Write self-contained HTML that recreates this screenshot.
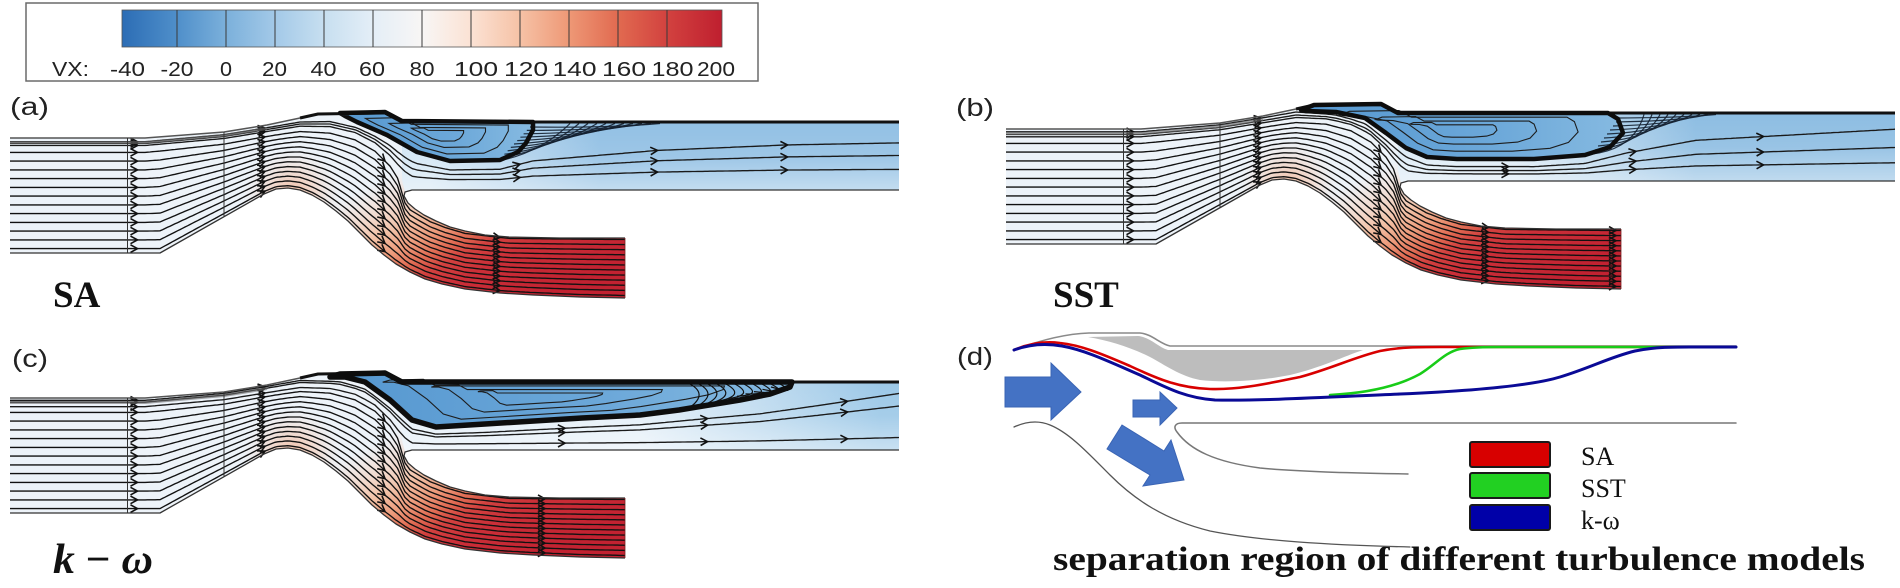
<!DOCTYPE html>
<html><head><meta charset="utf-8"><style>
html,body{margin:0;padding:0;background:#fff;}
svg{display:block;}
</style></head><body>
<svg id="s" xmlns="http://www.w3.org/2000/svg" xmlns:xlink="http://www.w3.org/1999/xlink" width="1900" height="588" viewBox="0 0 1900 588">
<defs>
<linearGradient id="gBar" gradientUnits="userSpaceOnUse" x1="122" y1="0" x2="722" y2="0">
 <stop offset="0" stop-color="#2c6db5"/>
 <stop offset="0.092" stop-color="#4f8fca"/>
 <stop offset="0.173" stop-color="#7bb0db"/>
 <stop offset="0.255" stop-color="#a3c9e8"/>
 <stop offset="0.337" stop-color="#c7dff0"/>
 <stop offset="0.418" stop-color="#e4eef7"/>
 <stop offset="0.5" stop-color="#f8f6f5"/>
 <stop offset="0.582" stop-color="#fbe2d4"/>
 <stop offset="0.663" stop-color="#f6c2a6"/>
 <stop offset="0.745" stop-color="#ee9876"/>
 <stop offset="0.827" stop-color="#e16a50"/>
 <stop offset="0.908" stop-color="#d2423f"/>
 <stop offset="1" stop-color="#bf1f2f"/>
</linearGradient>
<linearGradient id="gRed" gradientUnits="userSpaceOnUse" x1="380" y1="180" x2="460" y2="340">
 <stop offset="0" stop-color="#f4dccf" stop-opacity="0"/>
 <stop offset="0.1" stop-color="#f4d6c6" stop-opacity="0.5"/>
 <stop offset="0.28" stop-color="#f2c1a6"/>
 <stop offset="0.4" stop-color="#ec9a7a"/>
 <stop offset="0.5" stop-color="#e06a52"/>
 <stop offset="0.58" stop-color="#d2413f"/>
 <stop offset="0.7" stop-color="#cb2f38"/>
 <stop offset="1" stop-color="#c22231"/>
</linearGradient>
<radialGradient id="gCrest" gradientUnits="userSpaceOnUse" cx="292" cy="198" r="50">
 <stop offset="0" stop-color="#f1a884" stop-opacity="0.85"/>
 <stop offset="0.5" stop-color="#f3c4ab" stop-opacity="0.5"/>
 <stop offset="1" stop-color="#f6e0d4" stop-opacity="0"/>
</radialGradient>
<linearGradient id="gTa" gradientUnits="userSpaceOnUse" x1="430" y1="0" x2="600" y2="0">
 <stop offset="0" stop-color="#d3e6f4"/><stop offset="1" stop-color="#92c0e4"/>
</linearGradient>
<linearGradient id="gTb" gradientUnits="userSpaceOnUse" x1="520" y1="0" x2="700" y2="0">
 <stop offset="0" stop-color="#d9e9f5"/><stop offset="1" stop-color="#8dbde2"/>
</linearGradient>
<linearGradient id="gTc" gradientUnits="userSpaceOnUse" x1="640" y1="0" x2="880" y2="0">
 <stop offset="0" stop-color="#e4eff8"/><stop offset="1" stop-color="#9cc8e7"/>
</linearGradient>
<linearGradient id="gTv" gradientUnits="userSpaceOnUse" x1="0" y1="122" x2="0" y2="190">
 <stop offset="0" stop-color="#fff" stop-opacity="0"/>
 <stop offset="0.5" stop-color="#fff" stop-opacity="0.1"/>
 <stop offset="1" stop-color="#fff" stop-opacity="0.45"/>
</linearGradient>
<linearGradient id="gBub" x1="0" y1="0" x2="1" y2="0">
 <stop offset="0" stop-color="#5597d0"/><stop offset="0.6" stop-color="#6ca8d9"/><stop offset="1" stop-color="#86bae1"/>
</linearGradient>
<path id="dom" d="M10,138 L145,138 L224,132 L267,125 L300,118 L318,114 L385,113 L402,122 L899,122 L899,190 L412,190 L405,192 L404,196 L408,203 L415,209 L424,215 L436,221 L450,227 L465,231 L485,235 L509,237 L560,238 L625,238 L625,298 L580,297 L533,295 L500,293 L465,289 L442,284 L425,279 L410,272 L396,264 L384,255 L372,245 L360,233 L348,221 L336,211 L324,202 L312,195 L300,190 L288,188 L276,189 L264,194 L160,253 L10,253 Z"/>
<clipPath id="cd"><use xlink:href="#dom" href="#dom"/></clipPath>
<path id="tch" d="M402,122 L899,122 L899,190 L412,190 L405,192 L402,180 Z"/>
<g id="walls" fill="none" stroke-linejoin="round">
 <path d="M10,138 L145,138 L224,132 L267,125 L300,118" stroke="#555" stroke-width="1.5"/>
 <path d="M300,118 L318,114 L385,113 L402,122 L899,122" stroke="#111" stroke-width="3"/>
 <path d="M10,253 L160,253 L264,194 L276,189 L288,188 L300,190 L312,195 L324,202 L336,211 L348,221 L360,233 L372,245 L384,255 L396,264 L410,272 L425,279 L442,284 L465,289 L500,293 L533,295 L580,297 L625,298" stroke="#333" stroke-width="1.3"/>
 <path d="M899,190 L412,190 L405,192 L404,196 L408,203 L415,209 L424,215 L436,221 L450,227 L465,231 L485,235 L509,237 L560,238 L625,238" stroke="#333" stroke-width="1.3"/>
 <path d="M127.5,138 V253 M224,132 V217" stroke="#333" stroke-width="1"/>
 <path d="M625,238 V298" stroke="#7a2020" stroke-width="0.8"/>
</g>
<g id="fills">
 <use xlink:href="#dom" href="#dom" fill="#edf3f9"/>
 <use xlink:href="#dom" href="#dom" fill="url(#gRed)"/>
 <rect x="230" y="150" width="130" height="110" fill="url(#gCrest)" clip-path="url(#cd)"/>
</g>
</defs>

<!-- colorbar -->
<rect x="26" y="3" width="732" height="78" fill="#fff" stroke="#6a6a6a" stroke-width="1.5"/>
<rect x="122" y="10" width="600" height="37" fill="url(#gBar)" stroke="#555" stroke-width="0.8"/>
<path d="M177,10V47M226,10V47M275,10V47M324,10V47M373,10V47M422,10V47M471,10V47M520,10V47M569,10V47M618,10V47M667,10V47" stroke="#3a3a3a" stroke-width="1"/>
<g font-family="Liberation Sans, Arial, sans-serif" font-size="20" fill="#222">
 <text x="52" y="76" textLength="37" lengthAdjust="spacingAndGlyphs">VX:</text>
 <text x="127.5" y="76" text-anchor="middle" textLength="35" lengthAdjust="spacingAndGlyphs">-40</text>
 <text x="177" y="76" text-anchor="middle" textLength="33" lengthAdjust="spacingAndGlyphs">-20</text>
 <text x="226" y="76" text-anchor="middle" textLength="12" lengthAdjust="spacingAndGlyphs">0</text>
 <text x="274.5" y="76" text-anchor="middle" textLength="25" lengthAdjust="spacingAndGlyphs">20</text>
 <text x="323.5" y="76" text-anchor="middle" textLength="26" lengthAdjust="spacingAndGlyphs">40</text>
 <text x="372" y="76" text-anchor="middle" textLength="26" lengthAdjust="spacingAndGlyphs">60</text>
 <text x="422" y="76" text-anchor="middle" textLength="25" lengthAdjust="spacingAndGlyphs">80</text>
 <text x="476" y="76" text-anchor="middle" textLength="44" lengthAdjust="spacingAndGlyphs">100</text>
 <text x="526" y="76" text-anchor="middle" textLength="44" lengthAdjust="spacingAndGlyphs">120</text>
 <text x="574.5" y="76" text-anchor="middle" textLength="44" lengthAdjust="spacingAndGlyphs">140</text>
 <text x="624" y="76" text-anchor="middle" textLength="44" lengthAdjust="spacingAndGlyphs">160</text>
 <text x="672.5" y="76" text-anchor="middle" textLength="42" lengthAdjust="spacingAndGlyphs">180</text>
 <text x="716" y="76" text-anchor="middle" textLength="38" lengthAdjust="spacingAndGlyphs">200</text>
</g>

<!-- panel labels -->
<g font-family="Liberation Sans, Arial, sans-serif" font-size="25" fill="#222">
 <text x="10" y="115" textLength="39" lengthAdjust="spacingAndGlyphs">(a)</text>
 <text x="956" y="116" textLength="38" lengthAdjust="spacingAndGlyphs">(b)</text>
 <text x="12" y="367" textLength="36" lengthAdjust="spacingAndGlyphs">(c)</text>
 <text x="957" y="365" textLength="36" lengthAdjust="spacingAndGlyphs">(d)</text>
</g>
<g font-family="Liberation Serif, Times New Roman, serif" font-weight="bold" fill="#111">
 <text x="53" y="307" font-size="37">SA</text>
 <text x="1053" y="307" font-size="37">SST</text>
 <text x="53" y="573" font-size="42" textLength="100" lengthAdjust="spacingAndGlyphs"><tspan font-style="italic">k</tspan> − <tspan font-style="italic">ω</tspan></text>
 <text x="1053" y="570" font-size="34" textLength="812" lengthAdjust="spacingAndGlyphs">separation region of different turbulence models</text>
</g>

<!-- panel a -->
<g transform="translate(0,0)">
 <use xlink:href="#fills" href="#fills"/>
 <use xlink:href="#tch" href="#tch" fill="url(#gTa)"/>
 <use xlink:href="#tch" href="#tch" fill="url(#gTv)"/>
 <polygon points="340,113 385,112 402,121 533,122 533,130 526,143 518,152 500,160 450,161 417,152 387,135 357,122 345,116" fill="url(#gBub)"/>
 <g id="La"></g>
 <use xlink:href="#walls" href="#walls"/>
 <polygon points="340,113 385,112 402,121 533,122 533,130 526,143 518,152 500,160 450,161 417,152 387,135 357,122 345,116" fill="none" stroke="#0d0d0d" stroke-width="4.5" stroke-linejoin="round"/>
</g>
<!-- panel b -->
<g transform="translate(996,-9)">
 <use xlink:href="#fills" href="#fills"/>
 <use xlink:href="#tch" href="#tch" fill="url(#gTb)"/>
 <use xlink:href="#tch" href="#tch" fill="url(#gTv)"/>
 <polygon points="305,119 318,114 385,113 402,122 612,122 622,128 627,142 614,156 589,164 538,168 461,168 431,166 410,157 390,142 369,127 340,121 310,120" fill="url(#gBub)"/>
 <g id="Lb"></g>
 <use xlink:href="#walls" href="#walls"/>
 <polygon points="305,119 318,114 385,113 402,122 612,122 622,128 627,142 614,156 589,164 538,168 461,168 431,166 410,157 390,142 369,127 340,121 310,120" fill="none" stroke="#0d0d0d" stroke-width="4.5" stroke-linejoin="round"/>
</g>
<!-- panel c -->
<g transform="translate(0,260)">
 <use xlink:href="#fills" href="#fills"/>
 <use xlink:href="#tch" href="#tch" fill="url(#gTc)"/>
 <use xlink:href="#tch" href="#tch" fill="url(#gTv)"/>
 <polygon points="330,117 340,114 385,113 402,122 792,122 790,127 770,134 740,140 703,146 679,150 640,155 582,158 485,164 436,167 412,160 390,140 365,122 345,117" fill="url(#gBub)"/>
 <g id="Lc"></g>
 <use xlink:href="#walls" href="#walls"/>
 <polygon points="330,117 340,114 385,113 402,122 792,122 790,127 770,134 740,140 703,146 679,150 640,155 582,158 485,164 436,167 412,160 390,140 365,122 345,117" fill="none" stroke="#0d0d0d" stroke-width="5.5" stroke-linejoin="round"/>
</g>

<!-- panel d -->
<g fill="none" stroke-linecap="round" stroke-linejoin="round">
 <path d="M1088,337 L1138,336 C1150,337 1158,347 1168,350 L1363,350 C1345,356 1320,368 1290,375 C1260,381 1225,383 1200,380 C1180,376 1165,365 1150,357 C1130,347 1110,341 1088,337 Z" fill="#bdbdbd"/>
 <path d="M1014,350 C1030,344 1060,334 1089,333 L1140,333 C1152,334 1160,344 1170,346 L1736,346" stroke="#8a8a8a" stroke-width="1.6"/>
 <path d="M1014,350 C1030,343 1045,341 1060,343 C1080,345 1100,353 1130,366 C1160,380 1180,388 1210,389 C1240,390 1270,383 1300,377 C1330,369 1355,357 1380,351 C1400,347 1420,347 1440,347 L1736,347" stroke="#d80000" stroke-width="2.6"/>
 <path d="M1330,395 C1370,393 1400,385 1420,374 C1435,365 1445,352 1460,349 C1475,347 1490,347 1500,347 L1736,347" stroke="#18cc18" stroke-width="2.6"/>
 <path d="M1014,350 C1030,344 1045,343 1062,346 C1085,350 1110,362 1140,375 C1165,387 1185,398 1215,400 C1260,401 1330,397 1400,394 C1470,391 1530,386 1560,377 C1590,368 1610,357 1635,351 C1655,347 1670,347 1690,347 L1736,347" stroke="#0a0a96" stroke-width="3"/>
 <path d="M1736,423 L1182,423 C1175,423 1173,427 1177,432 C1190,450 1215,462 1260,468 C1300,472 1360,473 1408,474" stroke="#777" stroke-width="1.5"/>
 <path d="M1014,427 C1025,422 1038,420 1050,425 C1070,433 1090,455 1110,475 C1135,500 1165,520 1210,531 C1260,541 1330,545 1410,547" stroke="#555" stroke-width="1.3"/>
</g>
<g fill="#4472c4" stroke="#3a64b4" stroke-width="1">
 <polygon points="1005,377 1051,377 1051,363 1081,392 1051,420 1051,407 1005,407"/>
 <polygon points="1133,400 1160,400 1160,392 1177,408 1160,425 1160,417 1133,417"/>
 <polygon points="1122,425 1164,451 1171,440 1184,480 1143,486 1150,475 1107,449"/>
</g>
<g stroke="#1a1a1a" stroke-width="2">
 <rect x="1470" y="442" width="80" height="25" rx="2" fill="#d80000"/>
 <rect x="1470" y="473" width="80" height="25" rx="2" fill="#22d022"/>
 <rect x="1470" y="505" width="80" height="25" rx="2" fill="#0000a8"/>
</g>
<g font-family="Liberation Serif, Times New Roman, serif" font-size="26" fill="#111">
 <text x="1581" y="465">SA</text>
 <text x="1581" y="497">SST</text>
 <text x="1581" y="529">k-ω</text>
</g>
</svg>
<script>
(function(){
var NS='http://www.w3.org/2000/svg';
function el(t,a,p){var e=document.createElementNS(NS,t);for(var k in a)e.setAttribute(k,a[k]);p.appendChild(e);return e;}
function yAt(p,x){if(x<=p[0][0])return p[0][1];for(var i=0;i<p.length-1;i++){if(x<=p[i+1][0]){var t=(x-p[i][0])/(p[i+1][0]-p[i][0]);return p[i][1]+t*(p[i+1][1]-p[i][1]);}}return p[p.length-1][1];}
function mk(A,B,t,x0,x1){var r=[];for(var x=x0;x<=x1+1e-6;x+=2.5){r.push([x,yAt(A,x)*(1-t)+yAt(B,x)*t]);}if(r[r.length-1][0]<x1)r.push([x1,yAt(A,x1)*(1-t)+yAt(B,x1)*t]);return r;}
function dd(pts){return 'M'+pts.map(function(p){return p[0].toFixed(1)+' '+p[1].toFixed(1);}).join('L');}
function arr(pts,x,g){var i=0;while(i<pts.length-1&&pts[i][0]<x)i++;if(i<1)i=1;var a=pts[i-1],b=pts[i];var dx=b[0]-a[0],dy=b[1]-a[1];var L=Math.hypot(dx,dy)||1;dx/=L;dy/=L;var s=7,w=3.8,tx=b[0],ty=b[1];
el('path',{d:'M'+(tx-dx*s-dy*w).toFixed(1)+' '+(ty-dy*s+dx*w).toFixed(1)+'L'+tx.toFixed(1)+' '+ty.toFixed(1)+'L'+(tx-dx*s+dy*w).toFixed(1)+' '+(ty-dy*s-dx*w).toFixed(1),fill:'none',stroke:'#111','stroke-width':1.6},g);}
var WB=[[10,253],[160,253],[264,194],[276,189],[288,188],[300,190],[312,195],[324,202],[336,211],[348,221],[360,233],[372,245],[384,255],[396,264],[410,272],[425,279],[442,284],[465,289],[500,293],[533,295],[580,297],[625,298]];
var M2=[[10,148],[145,148],[224,141],[267,134],[300,129],[330,130],[355,136],[375,147],[390,162],[398,175],[402,190],[405,200],[410,207],[418,212],[430,219],[445,225],[465,231],[509,236],[625,237]];
var M1=[[10,148],[145,148],[224,141],[267,134],[300,129],[330,130],[355,136],[375,147],[390,162],[398,173],[405,181],[412,186],[899,187]];
var P=[
 {id:'La',T:[[10,139],[145,139],[224,132],[267,125],[300,119],[330,118],[357,124],[387,137],[417,154],[450,163],[500,162],[533,150],[657,135],[787,127],[899,124]],ut:[0.3,0.5,0.72],ma:[137,265,385,500],ua:[137,265,520,657,787],
  bub:[[340,113],[385,112],[402,121],[533,122],[533,130],[526,143],[518,152],[500,160],[450,161],[417,152],[387,135],[357,122],[345,116]],
  fan:function(g){for(var k=0;k<11;k++){el('path',{d:'M'+(498+3.2*k)+' '+(161-3.4*k)+'Q'+(540+7*k)+' '+(153-2.5*k)+' '+(570+9*k)+' 123.5',fill:'none',stroke:'#142030','stroke-width':1.2,opacity:0.9},g);}}},
 {id:'Lb',T:[[10,139],[145,139],[224,132],[267,125],[300,119],[340,122],[369,130],[390,146],[410,161],[431,171],[461,173],[538,173],[589,169],[630,156],[700,140],[899,126]],ut:[0.2,0.5,0.75],ma:[137,265,385,492,618],ua:[137,265,512,640,767],
  bub:[[305,119],[318,114],[385,113],[402,122],[612,122],[622,128],[627,142],[614,156],[589,164],[538,168],[461,168],[431,166],[410,157],[390,142],[369,127],[340,121],[310,120]],
  fan:function(g){for(var k=0;k<10;k++){el('path',{d:'M'+(596+3*k)+' '+(163-4*k)+'Q'+(638+6*k)+' '+(158-3.5*k)+' '+(648+8*k)+' 123.5',fill:'none',stroke:'#142030','stroke-width':1.2,opacity:0.9},g);}}},
 {id:'Lc',T:[[10,139],[145,139],[224,132],[267,125],[300,119],[340,120],[365,127],[390,146],[412,166],[436,172],[485,170],[582,164],[640,161],[703,154],[760,148],[820,138],[899,124]],ut:[0.15,0.35,0.85],ma:[137,265,385,543],ua:[137,265,563,707,847],
  bub:[[330,117],[340,114],[385,113],[402,122],[792,122],[790,127],[770,134],[740,140],[703,146],[679,150],[640,155],[582,158],[485,164],[436,167],[412,160],[390,140],[365,122],[345,117]],
  fan:function(g){for(var k=0;k<11;k++){el('path',{d:'M'+(690+9*k)+' 124Q'+(710+9*k)+' 135 '+(686+8.5*k)+' '+(150-2.3*k),fill:'none',stroke:'#111','stroke-width':1.2},g);}}}
];
P.forEach(function(c){
 var g=document.getElementById(c.id); if(!g)return;
 var cx=0,cy=0;c.bub.forEach(function(p){cx+=p[0];cy+=p[1];});cx/=c.bub.length;cy/=c.bub.length;
 [0.74,0.5,0.27].forEach(function(s){var pts=c.bub.map(function(p){return [cx+(p[0]-cx)*s,cy+(p[1]-cy)*s];});el('path',{d:dd(pts)+'Z',fill:'none',stroke:'#1d1d1d','stroke-width':1.1},g);});
 c.fan(g);
 for(var k=0;k<12;k++){var t=(k+0.5)/12;var pts=mk(WB,M2,t,10,625);el('path',{d:dd(pts),fill:'none',stroke:'#111','stroke-width':1.35},g);c.ma.forEach(function(x){arr(pts,x,g);});}
 c.ut.forEach(function(t){var pts=mk(c.T,M1,t,10,899);el('path',{d:dd(pts),fill:'none',stroke:'#1a1a1a','stroke-width':1.35},g);c.ua.forEach(function(x){arr(pts,x,g);});});
 el('path',{d:'M10,142.5 L145,142.5 L224,135.5 L267,128.5',fill:'none',stroke:'#6a6a6a','stroke-width':3,opacity:0.6},g);
});
})();
</script>
</body></html>
